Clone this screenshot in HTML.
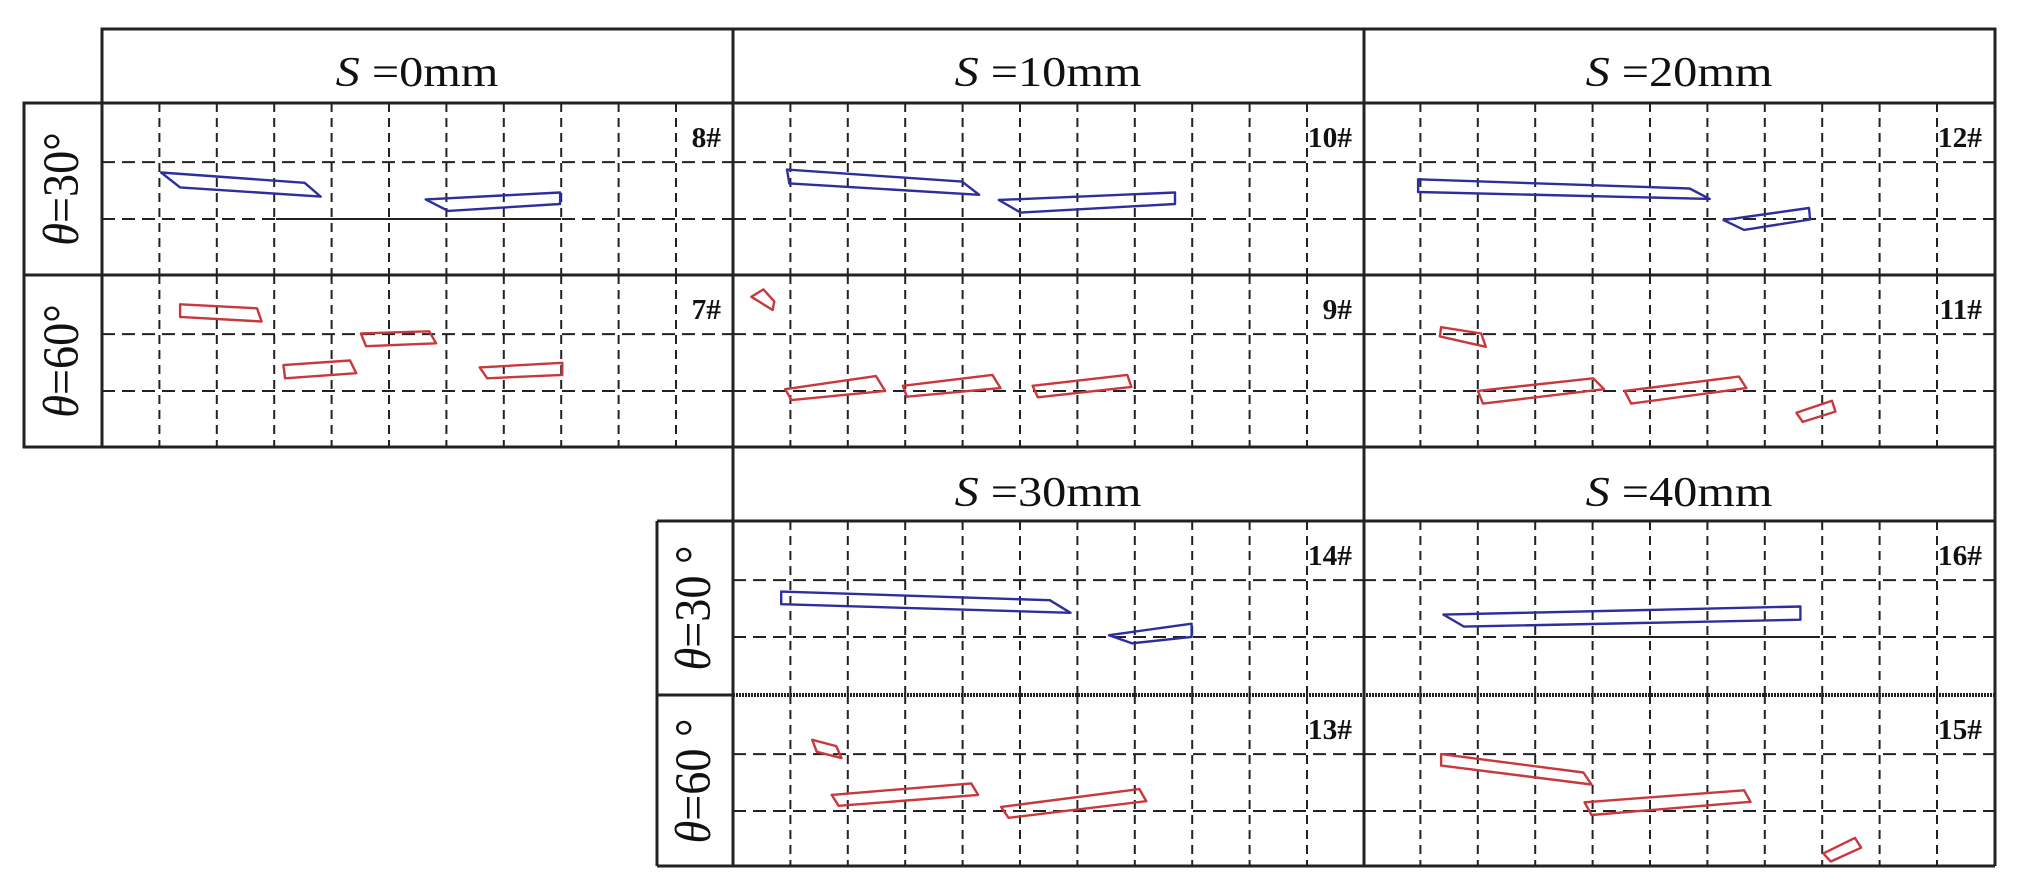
<!DOCTYPE html>
<html><head><meta charset="utf-8">
<style>
html,body{margin:0;padding:0;background:#fff;}
svg{display:block;}
</style></head>
<body>
<svg id="fig" width="2019" height="889" viewBox="0 0 2019 889" xmlns="http://www.w3.org/2000/svg">
<rect x="0" y="0" width="2019" height="889" fill="#fff"/>
<g id="grids"></g>
<g id="shapes"></g>
<g id="frame" fill="none" stroke="#222" stroke-width="3">
  <rect x="102" y="29" width="1893" height="74"/>
  <line x1="733" y1="29" x2="733" y2="866"/>
  <line x1="1364" y1="29" x2="1364" y2="866"/>
  <line x1="1995" y1="29" x2="1995" y2="866"/>
  <rect x="24" y="103" width="709" height="344"/>
  <line x1="102" y1="103" x2="102" y2="447"/>
  <line x1="24" y1="275" x2="1995" y2="275"/>
  <line x1="733" y1="447" x2="1995" y2="447"/>
  <line x1="657" y1="521" x2="1995" y2="521"/>
  <line x1="657" y1="521" x2="657" y2="866"/>
  <line x1="657" y1="866" x2="1995" y2="866"/>
  <line x1="657" y1="695" x2="733" y2="695"/>
  <line x1="733" y1="695" x2="1995" y2="695" stroke-dasharray="2,1" stroke-width="4"/>
</g>
<g font-family="'Liberation Serif', serif" fill="#111">
  <text transform="translate(417,86) scale(1.15,1)" font-size="42" text-anchor="middle"><tspan font-style="italic">S</tspan> =0mm</text>
  <text transform="translate(1048,86) scale(1.15,1)" font-size="42" text-anchor="middle"><tspan font-style="italic">S</tspan> =10mm</text>
  <text transform="translate(1679,86) scale(1.15,1)" font-size="42" text-anchor="middle"><tspan font-style="italic">S</tspan> =20mm</text>
  <text transform="translate(1048,506) scale(1.15,1)" font-size="42" text-anchor="middle"><tspan font-style="italic">S</tspan> =30mm</text>
  <text transform="translate(1679,506) scale(1.15,1)" font-size="42" text-anchor="middle"><tspan font-style="italic">S</tspan> =40mm</text>
  <text transform="translate(78,189) rotate(-90) scale(1.05,1.15)" font-size="44" text-anchor="middle"><tspan font-style="italic">θ</tspan>=30°</text>
  <text transform="translate(78,361) rotate(-90) scale(1.05,1.15)" font-size="44" text-anchor="middle"><tspan font-style="italic">θ</tspan>=60°</text>
  <text transform="translate(710,608) rotate(-90) scale(1.05,1.15)" font-size="44" text-anchor="middle"><tspan font-style="italic">θ</tspan>=30 °</text>
  <text transform="translate(710,781) rotate(-90) scale(1.05,1.15)" font-size="44" text-anchor="middle"><tspan font-style="italic">θ</tspan>=60 °</text>
</g>
<g id="plabels" font-family="'Liberation Serif', serif" font-weight="bold" fill="#111"></g>
</svg>
<script>
const panelIds = ['8#','7#','10#','9#','12#','11#','14#','13#','16#','15#'];
const panelColors = ['blue','red','blue','red','blue','red','blue','red','blue','red'];
const panelOriginX = [102,102,733,733,1363,1363,733,733,1363,1363];
const panelOriginY = [103,275,103,275,103,275,521,695,521,695];
const panelHeight = [172,172,172,172,172,172,174,171,174,171];
const solidSeg = [[3.03,8.0],null,[2.94,8.0],null,null,null,null,null,[2.98,7.96],null];

const shapes8 = [[[1.03,1.21],[3.53,1.39],[3.81,1.63],[1.36,1.47]],[[5.64,1.68],[7.98,1.56],[7.98,1.76],[6.03,1.88]]];
const shapes7 = [[[1.36,0.51],[2.70,0.58],[2.78,0.81],[1.36,0.73]],[[3.16,1.57],[4.32,1.49],[4.43,1.71],[3.19,1.80]],[[4.51,1.02],[5.70,0.98],[5.82,1.19],[4.60,1.24]],[[6.58,1.61],[8.02,1.53],[8.02,1.74],[6.71,1.80]]];
const shapes10 = [[[0.94,1.16],[3.99,1.37],[4.29,1.60],[0.98,1.40]],[[4.63,1.69],[7.70,1.56],[7.70,1.76],[5.01,1.91]]];
const shapes9 = [[[0.32,0.38],[0.53,0.25],[0.72,0.46],[0.69,0.61]],[[0.91,1.99],[2.49,1.76],[2.65,2.02],[1.02,2.18]],[[2.96,1.93],[4.52,1.74],[4.66,1.97],[3.03,2.12]],[[5.22,1.93],[6.87,1.74],[6.94,1.95],[5.31,2.13]]];
const shapes12 = [[[0.96,1.33],[5.69,1.49],[6.04,1.67],[0.96,1.55]],[[6.28,2.04],[7.77,1.83],[7.79,2.03],[6.64,2.21]]];
const shapes11 = [[[1.36,0.91],[2.06,1.02],[2.14,1.25],[1.34,1.07]],[[2.00,2.02],[4.01,1.80],[4.20,1.99],[2.09,2.24]],[[4.56,2.02],[6.55,1.77],[6.68,1.97],[4.67,2.24]],[[7.55,2.40],[8.17,2.19],[8.23,2.38],[7.66,2.56]]];
const shapes14 = [[[0.84,1.23],[5.52,1.38],[5.88,1.60],[0.84,1.45]],[[6.55,1.99],[7.99,1.79],[7.99,2.02],[6.95,2.13]]];
const shapes13 = [[[1.38,0.78],[1.80,0.89],[1.89,1.10],[1.46,0.99]],[[1.72,1.74],[4.15,1.54],[4.27,1.74],[1.84,1.93]],[[4.67,1.95],[7.08,1.64],[7.20,1.85],[4.80,2.14]]];
const shapes16 = [[[1.40,1.63],[7.62,1.49],[7.62,1.72],[1.76,1.84]]];
const shapes15 = [[[1.36,1.03],[3.84,1.35],[3.98,1.56],[1.36,1.23]],[[3.86,1.87],[6.64,1.66],[6.75,1.86],[3.98,2.09]],[[8.02,2.76],[8.57,2.49],[8.68,2.66],[8.15,2.90]]];
const allShapes = [shapes8,shapes7,shapes10,shapes9,shapes12,shapes11,shapes14,shapes13,shapes16,shapes15];

const NS = 'http://www.w3.org/2000/svg';
const CELL = 57.4;
const PANEL_W = 631;
const colorMap = {blue:'#2e2f9c', red:'#c8383c'};
function xScale(p,u){ return panelOriginX[p] + u*CELL; }
function yScale(p,u){ return panelOriginY[p] + u*CELL; }

const grids = document.getElementById('grids');
const shapesG = document.getElementById('shapes');
const plabels = document.getElementById('plabels');

for (let p=0;p<panelIds.length;p++){
  const ox = panelOriginX[p], oy = panelOriginY[p], h = panelHeight[p];
  for (let i=1;i<=10;i++){
    const l = document.createElementNS(NS,'line');
    l.setAttribute('x1', xScale(p,i)); l.setAttribute('x2', xScale(p,i));
    l.setAttribute('y1', oy); l.setAttribute('y2', oy+h);
    l.setAttribute('stroke','#222'); l.setAttribute('stroke-width','2');
    l.setAttribute('stroke-dasharray','9,6');
    
    
    grids.appendChild(l);
  }
  [1.03,2.02].forEach(function(gy){
    const l = document.createElementNS(NS,'line');
    l.setAttribute('x1', ox); l.setAttribute('x2', ox+PANEL_W);
    l.setAttribute('y1', yScale(p,gy)); l.setAttribute('y2', yScale(p,gy));
    l.setAttribute('stroke','#222'); l.setAttribute('stroke-width','2');
    l.setAttribute('stroke-dasharray','13,7');
    
    
    grids.appendChild(l);
  });
  if (solidSeg[p]){
    const l = document.createElementNS(NS,'line');
    l.setAttribute('x1', xScale(p,solidSeg[p][0])); l.setAttribute('x2', xScale(p,solidSeg[p][1]));
    l.setAttribute('y1', yScale(p,2.02)); l.setAttribute('y2', yScale(p,2.02));
    l.setAttribute('stroke','#222'); l.setAttribute('stroke-width','2');
    
    
    grids.appendChild(l);
  }
  allShapes[p].forEach(function(poly){
    const pg = document.createElementNS(NS,'polygon');
    pg.setAttribute('points', poly.map(function(pt){ return xScale(p,pt[0]).toFixed(1)+','+yScale(p,pt[1]).toFixed(1); }).join(' '));
    pg.setAttribute('fill','none');
    pg.setAttribute('stroke', colorMap[panelColors[p]]);
    pg.setAttribute('stroke-width','2.4');
    pg.setAttribute('stroke-linejoin','round');
    
    
    shapesG.appendChild(pg);
  });
  const t = document.createElementNS(NS,'text');
  t.setAttribute('transform','translate('+(ox+PANEL_W-12)+','+(oy+44)+') scale(1.05,1)');
  t.setAttribute('font-size','28');
  t.setAttribute('text-anchor','end');
  t.textContent = panelIds[p];
  
  
  plabels.appendChild(t);
}
</script>
</body></html>
